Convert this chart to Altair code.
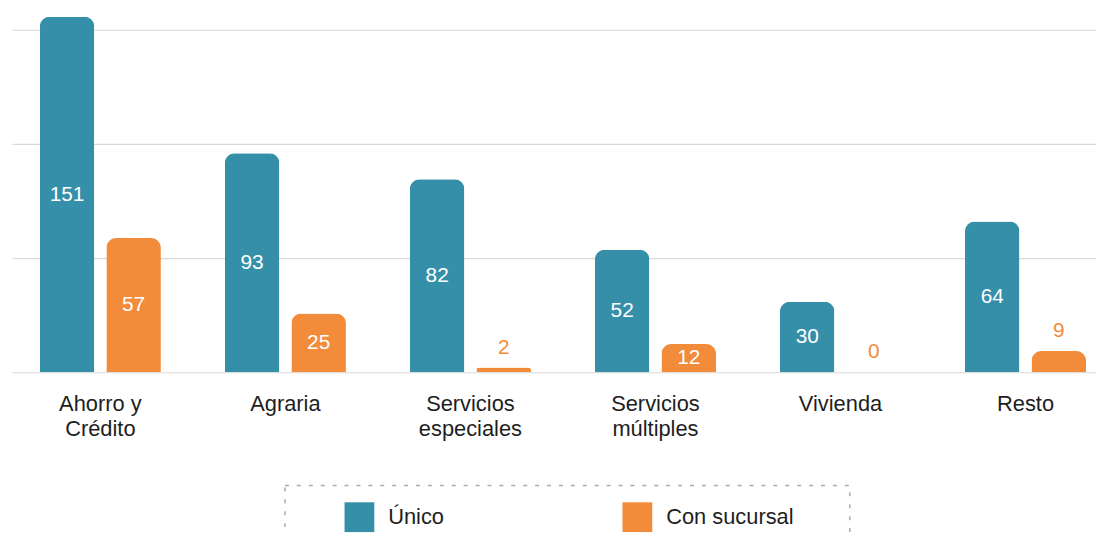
import altair as alt
import pandas as pd

categorias = ["Ahorro y Crédito", "Agraria", "Servicios especiales",
              "Servicios múltiples", "Vivienda", "Resto"]
series = ["Único", "Con sucursal"]
unico = [151, 93, 82, 52, 30, 64]
con_sucursal = [57, 25, 2, 12, 0, 9]
colores = ["#368FA9", "#F28C3A"]
grid_values = [0, 48.5, 97, 145.5]

rows = []
for c, u, s in zip(categorias, unico, con_sucursal):
    rows.append({"categoria": c, "serie": series[0], "valor": u})
    rows.append({"categoria": c, "serie": series[1], "valor": s})
df = pd.DataFrame(rows)

FONT = "Liberation Sans"

label_expr = ("indexof(datum.value, ' ') < 0 ? datum.value : "
              "[substring(datum.value, 0, lastindexof(datum.value, ' ')), "
              "substring(datum.value, lastindexof(datum.value, ' ') + 1)]")

x = alt.X("categoria:N", sort=categorias, title=None,
          scale=alt.Scale(paddingInner=0.3455, paddingOuter=0.102, align=0.737),
          axis=alt.Axis(labelExpr=label_expr, labelAngle=0, labelFontSize=22,
                        labelFont=FONT, labelColor="#1e1e1e", labelPadding=22,
                        labelLineHeight=25, ticks=False, domain=False,
                        labelBaseline="top"))
xo = alt.XOffset("serie:N", sort=series,
                 scale=alt.Scale(paddingInner=0.18, paddingOuter=0))
yscale = alt.Scale(domain=[0, 151], nice=False, zero=True)
yaxis = alt.Axis(values=grid_values, labels=False, ticks=False, domain=False,
                 grid=True, gridColor="#d9d9d9", gridWidth=1.2, title=None)
cscale = alt.Scale(domain=series, range=colores)

base = alt.Chart(df)

bars = base.mark_bar(cornerRadiusTopLeft=10, cornerRadiusTopRight=10).encode(
    x=x, xOffset=xo,
    y=alt.Y("valor:Q", scale=yscale, axis=yaxis),
    color=alt.Color("serie:N", sort=series, scale=cscale,
                    legend=alt.Legend(title=" ", titleOrient="right", titlePadding=40,
                                      orient="none", legendX=275, legendY=472,
                                      direction="horizontal", symbolType="square",
                                      symbolSize=900, symbolStrokeWidth=0,
                                      labelFontSize=22, labelFont=FONT,
                                      labelColor="#1e1e1e", labelOffset=14,
                                      symbolOffset=43, columnPadding=136,
                                      padding=17, strokeColor="#aaaaaa")),
)

inside = base.transform_filter("datum.valor >= 10").transform_calculate(
    mid="datum.valor / 2").mark_text(
    color="white", fontSize=21, font=FONT, baseline="middle").encode(
    x=x, xOffset=xo, y=alt.Y("mid:Q", scale=yscale, axis=yaxis),
    text=alt.Text("valor:Q"))

outside = base.transform_filter("datum.valor < 10").mark_text(
    fontSize=21, font=FONT, baseline="middle", dy=-20).encode(
    x=x, xOffset=xo, y=alt.Y("valor:Q", scale=yscale, axis=yaxis),
    text=alt.Text("valor:Q"),
    color=alt.Color("serie:N", sort=series, scale=cscale, legend=None))

chart = alt.layer(bars, inside, outside).properties(
    width=1092, height=358,
    autosize=alt.AutoSizeParams(type="none"),
    padding={"left": 4, "top": 7, "right": 1, "bottom": 160},
).configure_view(stroke=None).configure_legend(strokeDash=[4, 8], strokeWidth=1.5)

chart.save("out.html", embed_options={"renderer": "svg", "actions": False})
